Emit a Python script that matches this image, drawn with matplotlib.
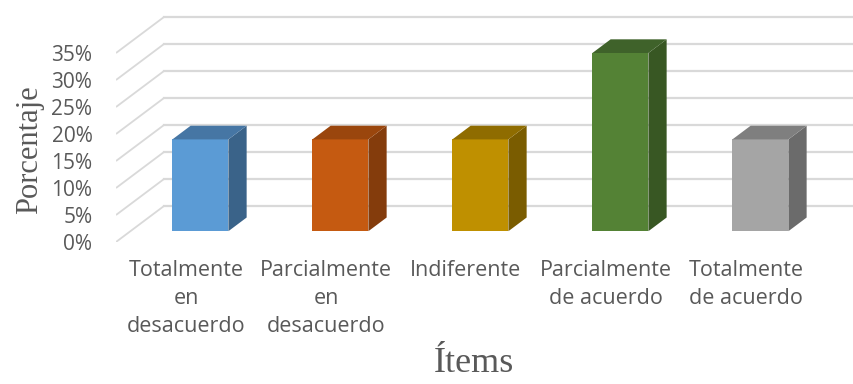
import matplotlib
matplotlib.use("Agg")
import matplotlib.pyplot as plt
import numpy as np

categories = ["Totalmente\nen\ndesacuerdo", "Parcialmente\nen\ndesacuerdo", "Indiferente",
              "Parcialmente\nde acuerdo", "Totalmente\nde acuerdo"]
values = [17, 17, 17, 33, 17]
yticks = [0, 5, 10, 15, 20, 25, 30, 35]

front_colors = ["#5B9BD5", "#C55A11", "#BF9000", "#548235", "#A5A5A5"]
top_colors = ["#4676A4", "#9A460D", "#8F6C00", "#3F622A", "#7F7F7F"]
side_colors = ["#3A6389", "#843C0C", "#7A5C00", "#385723", "#6B6B6B"]

TXT = "#595959"
GRID = "#D9D9D9"

# oblique depth offset (category units, percent units)
DX = 48 / 140
DY = 36 / 5.4
d0, d1 = 0.3, 0.68
W = 0.4

W_PX, H_PX = 854, 384
fig = plt.figure(figsize=(W_PX / 100, H_PX / 100), dpi=100)
left = 116
bottom = 384 - 242
ax = fig.add_axes([left / W_PX, bottom / H_PX, (W_PX - left) / W_PX, 42 * 5.4 / H_PX])
ax.set_xlim(-0.5, -0.5 + (W_PX - left) / 140)
ax.set_ylim(0, 42)
for s in ax.spines.values():
    s.set_visible(False)

# back wall gridlines and floor/side diagonals
x0 = -0.5
for v in yticks:
    ax.plot([x0, x0 + DX], [v, v + DY], color=GRID, lw=1.3, zorder=1, solid_capstyle="butt")
    ax.plot([x0 + DX, 10], [v + DY, v + DY], color=GRID, lw=1.6, zorder=1)

x = np.arange(len(values))
xf = x + d0 * DX
ax.bar(xf, values, width=W, bottom=d0 * DY, color=front_colors, zorder=3, linewidth=0)
for i, v in enumerate(values):
    xl, xr = xf[i] - W / 2, xf[i] + W / 2
    sx, sy = (d1 - d0) * DX, (d1 - d0) * DY
    yb, yt = d0 * DY, v + d0 * DY
    ax.fill([xr, xr + sx, xr + sx, xr], [yb, yb + sy, yt + sy, yt],
            color=side_colors[i], zorder=3, lw=0)
    ax.fill([xl, xr, xr + sx, xl + sx], [yt, yt, yt + sy, yt + sy],
            color=top_colors[i], zorder=3, lw=0)

ax.set_yticks(yticks)
ax.set_yticklabels([f"{t}%" for t in yticks], fontsize=15, color=TXT, family="Open Sans")
ax.set_xticks(x)
ax.set_xticklabels(categories, fontsize=15.5, color=TXT, family="Open Sans", linespacing=1.45)
ax.tick_params(axis="y", length=0, pad=17)
ax.tick_params(axis="x", length=0, pad=13)

fig.text(30 / W_PX, 1 - 150 / H_PX, "Porcentaje", rotation=90, ha="center", va="center",
         fontsize=22, color=TXT, family="Liberation Serif")
fig.text(474 / W_PX, 1 - 363 / H_PX, "Ítems", ha="center", va="center",
         fontsize=26, color=TXT, family="Liberation Serif")

fig.savefig("out.png", dpi=100)
